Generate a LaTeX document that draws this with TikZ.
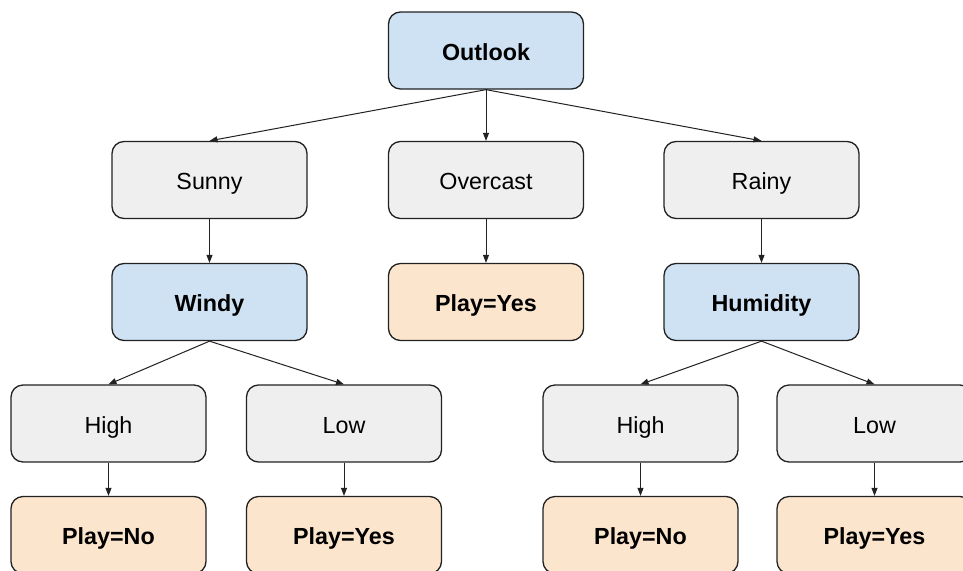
\documentclass[tikz,border=0pt]{standalone}
\usepackage{fontspec}
\setmainfont{Liberation Sans}
\usetikzlibrary{arrows.meta}
\definecolor{bluebox}{HTML}{CFE2F3}
\definecolor{graybox}{HTML}{EFEFEF}
\definecolor{orangebox}{HTML}{FCE5CD}
\definecolor{edgecol}{HTML}{222222}
\tikzset{
  box/.style={draw=edgecol, line width=1.3pt, rounded corners=12pt, minimum width=195pt, minimum height=77pt, inner sep=0pt, text height=19pt, text depth=0pt, font=\fontsize{23.3}{26}\selectfont},
  attr/.style={box, fill=bluebox, font=\fontsize{23.3}{26}\selectfont\bfseries},
  val/.style={box, fill=graybox},
  leaf/.style={box, fill=orangebox, font=\fontsize{23.3}{26}\selectfont\bfseries},
  conn/.style={draw=edgecol, line width=1pt, -{Triangle[length=8pt,width=6pt]}}
}
\begin{document}
\begin{tikzpicture}[x=1pt,y=-1pt]
\clip (0,0) rectangle (963,570);
\fill[white] (0,0) rectangle (963,570);
\node[attr] (outlook) at (486,50.5) {Outlook};
\node[val] (sunny) at (209.5,180) {Sunny};
\node[val] (overcast) at (486,180) {Overcast};
\node[val] (rainy) at (761.5,180) {Rainy};
\node[attr] (windy) at (209.5,302) {Windy};
\node[leaf] (yesmid) at (486,302) {Play=Yes};
\node[attr] (humidity) at (761.5,302) {Humidity};
\node[val] (high1) at (108.5,423.5) {High};
\node[val] (low1) at (344,423.5) {Low};
\node[val] (high2) at (640.5,423.5) {High};
\node[val] (low2) at (874.5,423.5) {Low};
\node[leaf] (no1) at (108.5,535) {Play=No};
\node[leaf] (yes1) at (344,535) {Play=Yes};
\node[leaf] (no2) at (640.5,535) {Play=No};
\node[leaf] (yes2) at (874.5,535) {Play=Yes};
\draw[conn] (outlook.south) -- (sunny.north);
\draw[conn] (outlook.south) -- (overcast.north);
\draw[conn] (outlook.south) -- (rainy.north);
\draw[conn] (sunny.south) -- (windy.north);
\draw[conn] (overcast.south) -- (yesmid.north);
\draw[conn] (rainy.south) -- (humidity.north);
\draw[conn] (windy.south) -- (high1.north);
\draw[conn] (windy.south) -- (low1.north);
\draw[conn] (humidity.south) -- (high2.north);
\draw[conn] (humidity.south) -- (low2.north);
\draw[conn] (high1.south) -- (no1.north);
\draw[conn] (low1.south) -- (yes1.north);
\draw[conn] (high2.south) -- (no2.north);
\draw[conn] (low2.south) -- (yes2.north);
\end{tikzpicture}
\end{document}
